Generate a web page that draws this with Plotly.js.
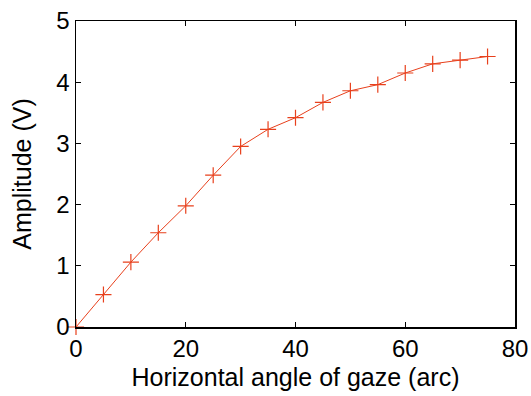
<!DOCTYPE html>
<html><head><meta charset="utf-8">
<script src="https://cdn.plot.ly/plotly-3.0.1.min.js"></script>
<style>html,body{margin:0;padding:0;background:#fff}#c{width:531px;height:396px}</style>
</head><body><div id="c"></div>
<script>
const angles = [0, 5, 10, 15, 20, 25, 30, 35, 40, 45, 50, 55, 60, 65, 70, 75];
const amplitude = [0, 0.53, 1.06, 1.54, 1.98, 2.48, 2.95, 3.23, 3.42, 3.67, 3.86, 3.96, 4.15, 4.30, 4.36, 4.42];
const xTicks = [0, 20, 40, 60, 80];
const yTicks = [0, 1, 2, 3, 4, 5];
const col = '#e8401c';
const FONT = 'Liberation Sans, Arial, sans-serif';
const trace = {
  x: angles, y: amplitude, type: 'scatter', mode: 'lines+markers',
  line: {color: col, width: 1},
  marker: {symbol: 'cross-thin-open', size: 11.5, color: col, line: {color: col, width: 1.2}},
  cliponaxis: false
};
const axisBase = {
  showgrid: false, zeroline: false, showline: true, linecolor: '#000', linewidth: 1.5,
  mirror: 'ticks', ticks: 'inside', ticklen: 5, tickcolor: '#000', tickwidth: 1,
  tickfont: {family: FONT, size: 24, color: '#000'}
};
const layout = {
  width: 531, height: 396,
  margin: {l: 76, r: 16, t: 21, b: 69},
  paper_bgcolor: '#fff', plot_bgcolor: '#fff', showlegend: false,
  xaxis: Object.assign({}, axisBase, {range: [0, 80], tickvals: xTicks, ticktext: xTicks.map(String),
    title: {text: 'Horizontal angle of gaze (arc)', standoff: 7, font: {family: FONT, size: 25, color: '#000'}}}),
  yaxis: Object.assign({}, axisBase, {range: [0, 5], tickvals: yTicks, ticktext: yTicks.map(String),
    title: {text: 'Amplitude (V)', standoff: 17, font: {family: FONT, size: 25, color: '#000'}}})
};
Plotly.newPlot('c', [trace], layout, {displayModeBar: false, staticPlot: true});
</script></body></html>
